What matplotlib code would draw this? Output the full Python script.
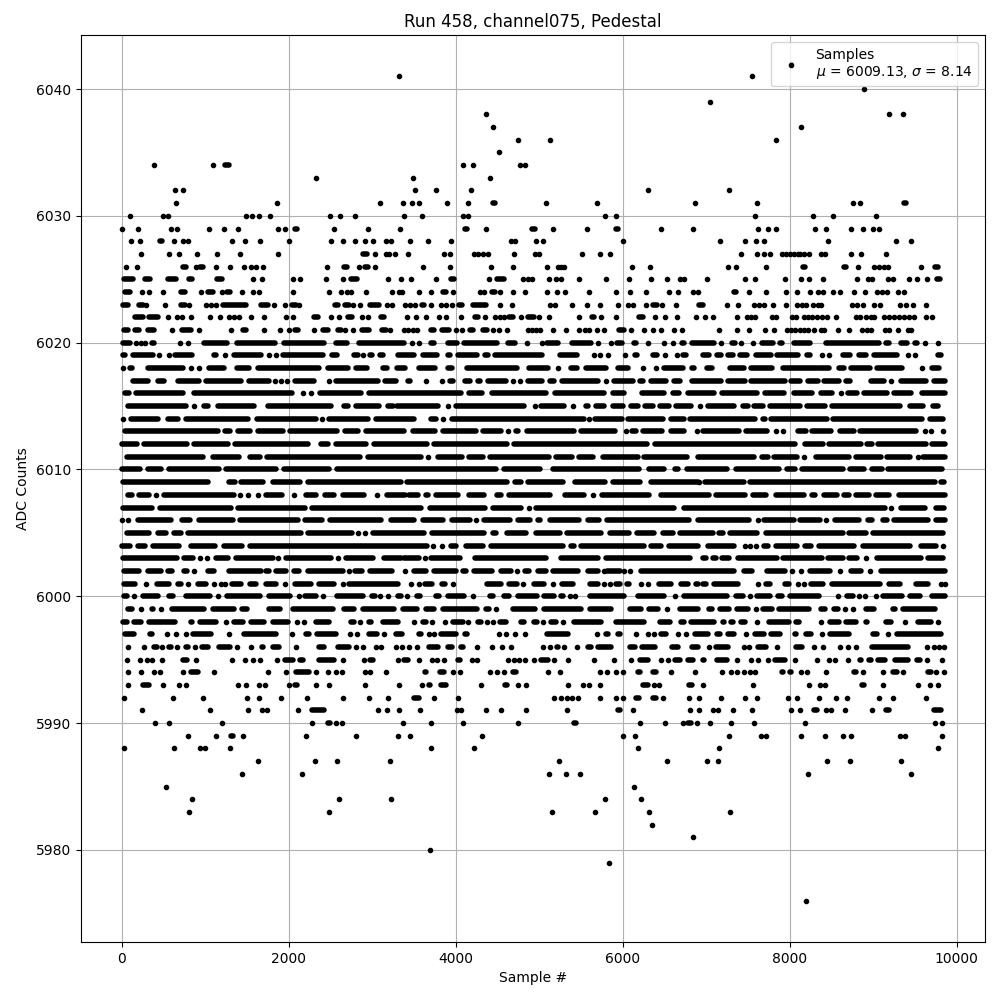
import matplotlib
matplotlib.use("Agg")
import matplotlib.pyplot as plt

# Each row is one ADC level. An int is a single sample index;
# a tuple (start, end) is a stretch of merged dots.
row_6042 = [8012]
row_6041 = [3325, 7544]
row_6040 = [8888]
row_6039 = [7040]
row_6038 = [4368, 9188, 9356]
row_6037 = [4452, 8132]
row_6036 = [4752, 5124, 7832]
row_6035 = [4524]
row_6034 = [392, 1088, (1240, 1280), 4092, 4212, 4776, 4836]
row_6033 = [2324, 3492, 4416]
row_6032 = [644, 740, 3516, 3768, 4188, 6300, 7268]
row_6031 = [656, 1856, 3092, 3372, 3480, 3564, 3900, 4152, (4452, 4476), 5076, 5688, 6864, 7604, 8756, 8840, (9368, 9392)]
row_6030 = [104, 500, 552, 1492, 1560, 1640, 1772, 2492, 2612, 2792, 3384, 3600, 4092, 4152, 5784, 5916, 7580, 8276, 8516, 9032]
row_6029 = [0, 200, 596, 668, 1040, 1220, 1388, 1868, 1960, (2072, 2100), 2540, 2948, 3330, (4112, 4140), 4368, (4920, 4952), 5160, 5568, (5924, 5944), 6456, 6840, 7616, 7736, 7832, 8300, 8432, 8732, 8876, 8996, 9068]
row_6028 = [116, 224, (460, 480), 632, 740, 800, 1316, 1472, 1652, 2000, 2504, 2648, 2792, 2912, 3008, 3160, 3224, 3456, 3672, 3948, 4668, 4716, 4956, 5040, 6000, 7160, 7460, 7592, 7688, 8456, 9272, 9452]
row_6027 = [236, 572, 692, 908, 1136, 1412, 1868, (2888, 2936), 3032, 3160, 3200, 3268, 3432, 3864, 3936, 4224, 4272, 4332, 4392, 4704, 4944, 4992, 5512, 5724, 5844, 7412, 7604, 7688, 7760, 7904, 7952, 8000, 8048, 8096, 8128, 8176, 8228, 8372, 8420, 8732, 8852, 9152]
row_6026 = [56, 188, (740, 772), 896, (940, 972), 1128, 1292, 1460, 1544, 1604, 1688, 2456, (2660, 2704), 2840, (2912, 2952), 3032, 3612, 3936, 4428, 4692, 5088, 5220, 5256, 5292, 6108, 6324, 7256, 7352, 7712, (8156, 8180), (8648, 8676), 8816, 9008, 9068, 9128, 9176, 9572, (9740, 9776)]
row_6025 = [(28, 140), (284, 344), (560, 648), (812, 848), (1136, 1196), 1568, 1676, 2048, 2132, 2444, 2648, (2744, 2820), 3192, 3344, 3468, 3768, (3948, 3984), 4404, (4500, 4580), 4812, 4872, 4920, 5112, 5196, 5256, 5472, 5796, 6072, 6336, 6532, 6684, 6732, 7004, 7460, 7580, 7940, 8132, 8228, 8396, 8804, 8936, 8984, 9176, 9236, 9428, 9524, 9644, (9760, 9800)]
row_6024 = [(44, 100), 248, 332, 500, (716, 764), 956, (1028, 1088), 1196, (1256, 1300), 1436, 1568, 1640, 2048, 2480, 2624, 2696, 2744, 2924, 3240, 3320, 3352, 3564, 3708, (3852, 3880), 3972, 4296, 4344, (4440, 4476), 4536, 4692, 4836, 5096, 5208, 5304, 5592, 5916, 6084, 6276, 6552, 6660, 6840, 6900, (7328, 7352), 7508, 7712, 7952, 8084, 8240, 8336, 8396, 8516, 8600, 8768, 8900, 9048, 9100, 9160, 9296, 9368]
row_6023 = [(12, 80), (212, 260), 296, 524, (716, 764), 812, 1004, 1064, 1124, (1208, 1484), (1664, 1748), 1820, 1952, (2036, 2084), 2120, (2552, 2588), (2672, 2720), 2768, 2852, (2972, 3080), 3176, 3240, 3392, 3452, 3508, (3592, 3620), 3708, 3828, 3888, 3960, (4044, 4080), (4212, 4364), 4536, 4680, 5124, 5184, 5388, 5572, 5724, 5940, 6060, 6120, 6276, (6360, 6412), 6468, 6636, (6908, 6956), 7244, 7376, 7568, 7628, 7688, 7796, 7952, 8084, 8148, 8196, 8276, 8336, 8372, 8744, 8808, 8876, 9008, 9080, 9320, 9388, 9476, 9632]
row_6022 = [(164, 260), (332, 440), 560, 668, 728, 836, 1052, 1172, 1280, 1340, 1400, 1544, 1700, 1964, 2048, (2300, 2348), 2504, 2600, (2708, 2756), 2876, 2948, (3104, 3140), 3412, 3528, 3648, 3800, 3888, 4060, (4236, 4272), 4356, 4476, 4536, 4584, (4644, 4692), 4788, (4868, 4932), 4992, 5112, 5472, (5628, 5652), 5736, 5916, (6192, 6240), 6384, 6504, 6648, 6884, 6980, 7076, 7364, 7488, 7536, 7588, 7784, 7832, 8024, 8072, 8168, 8216, 8268, 8328, 8388, 8448, 8552, 8792, 8848, 8908, 8968, 9008, 9128, 9188, 9248, 9308, 9368, 9428, 9488, 9632, 9704]
row_6021 = [(28, 80), (164, 212), (320, 392), 608, (728, 836), 932, 1304, (1448, 1484), 1700, 1892, 2000, (2072, 2108), 2300, (2408, 2468), (2588, 2624), 2672, 2776, (2876, 2960), (3116, 3164), 3212, 3380, 3432, 3484, 3540, (3700, 3744), (3840, 3920), 4008, 4080, (4172, 4212), (4332, 4380), 4452, 4524, 4620, 4868, 4920, 4960, 5012, 5160, 5316, 5472, 5544, 5592, 5688, 5772, (5952, 6012), 6096, 6252, 6364, 6456, 6612, 6708, 7148, 7364, 7508, 7708, 7808, 7964, 8016, 8068, 8120, 8168, 8216, 8288, 8372, 8408, 8576, 8708, 8868, 8920, 8976, 9140, 9188, 9296, 9416, 9452]
row_6020 = [(20, 96), 168, 228, 280, (368, 388), 696, 800, (984, 1260), (1384, 1836), (1944, 2428), (2564, 2700), (2840, 3380), 3472, 3560, (3704, 3740), (3904, 4012), (4096, 4500), (4628, 4708), 4860, 5028, (5096, 5228), (5392, 5620), 5700, 5856, (5928, 5992), (6136, 6160), 6308, 6496, 6600, (6716, 6740), (6836, 7088), 7172, (7312, 7344), 7412, 7556, (7668, 7796), (7880, 7908), (8052, 8248), (8440, 9068), (9148, 9188), (9328, 9408), (9500, 9528), 9620, 9776]
row_6019 = [(12, 44), (132, 380), 444, 564, (644, 848), (1104, 1128), 1232, (1344, 1668), 1768, 1852, (1932, 2408), (2524, 2580), (2784, 2828), 2892, (2972, 2996), (3092, 3128), (3308, 3500), (3604, 3772), (3904, 3932), (4024, 4260), (4352, 4388), (4468, 5028), (5248, 5448), 5656, 5732, 5824, 6024, (6144, 6172), (6364, 6412), 6504, 6648, (6724, 6756), (6960, 7036), (7132, 7176), (7260, 7316), (7400, 7484), (7592, 7776), (7852, 8096), (8208, 8248), 8384, 8468, (8640, 8728), (8828, 8916), (9012, 9284), 9420, 9504, (9780, 9816)]
row_6018 = [12, (100, 124), (312, 740), 836, 928, (1044, 1220), (1384, 1528), (1632, 2368), (2472, 2708), (2812, 2940), (3124, 3172), (3300, 3396), (3564, 3748), (3904, 3960), (4136, 4740), (4876, 5100), 5224, (5376, 5448), (5556, 5800), (5944, 6060), 6240, 6400, (6496, 6720), (6836, 6852), (7008, 7064), (7280, 7456), (7540, 7784), (7920, 8316), (8336, 8476), (8592, 8656), (8740, 8956), (9048, 9344), 9588, (9700, 9788)]
row_6017 = [(140, 320), (432, 508), (672, 928), (1008, 1428), (1520, 1768), 1832, 1904, 1980, (2072, 2308), 2480, (2572, 3068), (3156, 3280), (3424, 3452), 3644, 3840, (3932, 3972), (4108, 4172), (4264, 4292), (4384, 4600), 4692, 4772, (4864, 5028), (5124, 5172), (5276, 5700), 5800, (5896, 6120), (6204, 6240), (6344, 6524), (6612, 6692), (6832, 7176), (7260, 7464), (7540, 7944), (8020, 8120), (8224, 8336), (8416, 8592), (8680, 8720), (8968, 9124), 9212, (9328, 9636), (9732, 9864)]
row_6016 = [(40, 88), (172, 740), (864, 2040), 2168, 2272, (2372, 2868), (2964, 4068), (4156, 4320), (4436, 5080), (5184, 5772), (5884, 6020), (6236, 6492), (6604, 6672), (6784, 7096), (7188, 7608), (7700, 7936), (8052, 8264), (8376, 8504), 8620, (8696, 8804), (8892, 9168), (9252, 9456), (9588, 9864)]
row_6015 = [(72, 768), 872, (984, 1036), (1152, 1588), (1752, 2508), (2664, 2708), (2804, 3080), (3192, 3248), (3300, 3788), 3912, (4004, 4820), 4944, (5024, 5300), 5404, (5556, 5580), (5676, 5780), (5884, 6000), (6096, 6180), (6264, 6360), (6452, 6560), (6644, 6820), 6920, (7020, 7328), (7440, 7496), (7572, 7676), (7768, 8124), (8208, 8424), (8508, 9316), (9440, 9596), (9720, 9776)]
row_6014 = [20, (112, 440), (552, 680), (772, 1508), (1624, 2328), 2396, (2484, 2956), (3044, 3500), (3704, 3760), 3852, (3956, 5540), 5596, (5664, 5988), (6064, 6480), (6576, 6740), (6812, 7584), (7680, 7704), (7780, 8448), (8520, 9588), (9680, 9836)]
row_6013 = [(36, 1156), (1232, 1300), (1392, 1532), (1632, 1928), (2012, 2580), (2676, 2828), (2924, 3380), (3484, 3748), (3844, 4240), (4324, 4548), 4632, (4724, 4748), (4852, 5420), (5504, 5908), 6040, (6116, 6160), (6244, 6468), (6576, 6740), 6892, (6960, 7396), (7472, 7728), 7840, 7920, (8100, 8196), (8268, 8496), (8600, 8776), (8848, 9516), 9620, 9696, 9840]
row_6012 = [(0, 180), (264, 780), (864, 1268), (1356, 2228), (2384, 2468), (2572, 2928), (3024, 3660), (3736, 4620), (4704, 6292), (6384, 8064), (8188, 8396), (8472, 8856), (8928, 8984), (9060, 9628), (9700, 9864)]
row_6011 = [(60, 972), (1092, 1408), (1532, 1656), (1740, 2856), (2952, 3588), 3668, (3792, 4080), (4164, 4332), (4412, 5120), (5204, 5388), (5476, 5640), (5764, 6180), (6256, 6772), (6904, 7576), (7668, 7736), (7812, 8088), 8176, (8312, 8708), (8796, 9088), (9168, 9436), 9536, (9600, 9856)]
row_6010 = [(0, 220), (312, 476), (564, 1168), (1244, 1848), (1944, 2488), (2584, 4488), (4576, 5012), (5164, 6200), (6316, 6500), (6624, 6660), (6772, 7248), (7360, 7872), (7968, 8064), (8152, 8636), (8720, 8888), (8980, 9104), (9180, 9828)]
row_6009 = [(12, 1028), (1284, 1356), (1432, 1688), (1812, 2140), (2232, 3340), (3412, 4620), (4716, 4788), (4864, 5280), (5424, 5788), (5884, 6208), (6336, 6900), 6908, (6980, 7448), (7520, 9744), (9808, 9848)]
row_6008 = [(72, 120), (212, 328), 412, (504, 1348), 1412, 1508, 1628, (1724, 1920), 2060, (2204, 2328), (2432, 2540), (2652, 2908), 3060, (3172, 3390), (3444, 3548), (3644, 3668), (3764, 4032), (4164, 4340), (4492, 4540), (4636, 5132), (5308, 5540), 5644, (5752, 6320), (6464, 7036), (7120, 7468), (7560, 7716), (7832, 8168), (8272, 8308), (8412, 8564), (8652, 8708), (8800, 8944), (9032, 9188), (9312, 9856)]
row_6007 = [(12, 368), (460, 1308), (1396, 2196), (2284, 3588), (3692, 4348), (4452, 4788), 4876, (4964, 6620), (6732, 9136), 9208, (9328, 9616), (9748, 9844)]
row_6006 = [0, 80, (192, 588), (724, 816), (924, 1328), (1412, 2108), (2200, 2400), (2492, 3100), (3220, 3500), (3604, 3852), (3952, 4172), 4244, (4336, 4652), (4744, 4892), (4984, 5012), (5124, 5480), (5584, 5720), (5812, 6800), (6904, 7516), 7616, (7692, 8048), (8120, 8368), 8440, (8540, 8828), (8940, 8984), (9112, 9164), (9252, 9656), (9748, 9856)]
row_6005 = [(60, 328), (432, 536), (624, 716), (792, 2148), (2232, 2760), 2828, 2920, (3012, 3620), (3712, 4340), (4444, 4480), (4612, 4844), (4956, 5252), (5336, 5740), (5852, 6080), (6172, 6372), (6484, 6600), (6684, 7076), (7152, 7196), (7288, 7608), (7720, 8636), (8712, 8916), (9000, 9836)]
row_6004 = [(0, 100), (192, 276), (372, 688), (832, 1120), (1220, 1436), (1536, 3652), 3724, 3840, (3948, 4000), (4124, 4332), (4424, 5280), (5384, 5412), (5504, 6260), (6344, 6460), (6552, 6900), (7020, 7336), 7468, 7520, 7592, (7692, 7744), (7832, 8088), (8184, 8256), (8352, 8768), (8880, 9436), (9576, 9756), 9836]
row_6003 = [(12, 668), (744, 856), 940, 1020, (1124, 1276), (1364, 1808), 1868, (1964, 2508), 2588, (2692, 3008), (3144, 3340), (3384, 3560), 3628, (3708, 4052), (4228, 5080), (5256, 5700), (5796, 6812), (6960, 6996), (7080, 7116), (7192, 7276), (7380, 7848), (7920, 8384), (8464, 8636), (8708, 8804), 8912, (9048, 9576), (9660, 9836)]
row_6002 = [(24, 204), (320, 468), (560, 608), (744, 788), 868, (1032, 1108), (1284, 1668), (1732, 1768), (1844, 1968), (2064, 2128), (2232, 2656), 2720, (2800, 2876), (2972, 3236), 3392, (3496, 3648), (3744, 4000), (4084, 4128), (4216, 4440), (4548, 4660), 4740, (4828, 4880), (4984, 5080), (5164, 5460), (5584, 5700), 5780, (5812, 5972), 6020, 6092, (6224, 7328), (7452, 7544), (7728, 7944), 8028, 8136, (8240, 8488), 8600, (8732, 8856), 8960, (9092, 9856)]
row_6001 = [(24, 156), 296, (424, 568), (672, 708), 792, (912, 1008), 1104, 1188, 1240, (1320, 1428), (1540, 1608), (1732, 1848), 1952, (2072, 2268), (2364, 2540), 2648, (2724, 3308), 3460, 3560, (3636, 3720), (3836, 3868), 3964, (4372, 4540), (4636, 4740), 4812, (4936, 5060), 5164, (5276, 5400), (5604, 5700), 5780, 5852, (5924, 5972), (6052, 6080), 6224, 6304, (6436, 6580), (6696, 6780), (6876, 6900), (6960, 6996), (7092, 7376), 7616, (7720, 7768), (7940, 7988), 8096, 8168, (8260, 8396), (8508, 9076), (9192, 9316), (9508, 9656), 9808, 9860]
row_6000 = [(24, 60), 152, (252, 440), (564, 620), (772, 1060), 1148, (1260, 1656), (1760, 2016), 2120, (2196, 2328), 2412, (2580, 2888), (2996, 3028), 3092, 3188, (3304, 3340), 3420, (3532, 3572), (3764, 3800), (3904, 4100), 4208, (4412, 4452), (4576, 4640), (4744, 4972), (5056, 5180), (5264, 5284), 5364, 5432, (5604, 6020), (6184, 6500), 6632, (6736, 7248), (7352, 7436), 7520, (7608, 7760), (7860, 7908), (8000, 8348), 8576, (8688, 8756), 8828, 8900, 9032, (9112, 9344), (9440, 9560), (9700, 9856)]
row_5999 = [(72, 120), 228, (360, 380), 476, (604, 988), (1092, 1348), (1444, 1496), (1760, 1900), (2052, 2528), (2660, 2788), (2892, 3260), (3364, 3540), (3644, 3740), (3844, 4260), (4364, 4400), 4484, (4692, 4948), (5052, 5500), (5604, 5860), (6084, 6220), (6312, 6428), 6532, (6692, 6900), (7032, 7064), (7160, 7276), (7372, 7496), 7592, (7680, 7784), (7872, 8236), (8380, 8428), (8528, 8576), 8660, 8760, (8912, 9008), (9232, 9256), (9352, 9736)]
row_5998 = [(20, 68), (152, 228), (324, 636), (832, 848), (940, 1128), 1244, (1344, 1448), (1552, 1700), (1812, 1988), 2096, 2180, (2332, 2488), (2752, 2788), 2852, (2960, 2980), (3124, 3308), 3504, (3604, 3640), 3720, 3876, (3972, 4088), 4152, (4264, 4300), 4372, 4452, (4532, 4600), (4784, 4820), (4932, 4972), 5044, (5144, 5200), 5280, (5412, 5740), (5924, 6252), (6452, 6572), (6704, 6732), (6824, 7096), (7200, 7216), (7300, 7316), (7420, 7468), 7608, (7752, 7988), (8080, 8116), 8380, (8480, 8588), (8680, 8796), (8912, 8928), (9148, 9216), 9380, (9532, 9696), 9780]
row_5997 = [(40, 148), (340, 368), 548, 652, 776, (852, 1068), 1288, (1464, 1848), 2036, (2204, 2240), (2340, 2568), 2740, 2816, (2964, 3060), 3140, (3284, 3352), (3556, 3588), 3680, 3744, (3824, 4000), (4108, 4140), 4524, 4608, 4716, 4836, (5092, 5348), 5692, (5804, 5820), (5944, 5968), 6164, 6300, 6372, (6464, 6520), 6660, 6760, (6864, 7016), (7132, 7168), (7260, 7336), 7472, (7580, 7688), (7772, 7888), (8064, 8080), (8200, 8256), 8384, (8488, 8716), (9000, 9048), 9176, (9280, 9816)]
row_5996 = [80, 272, (392, 420), 488, (572, 588), 668, (772, 800), 884, (964, 1028), (1164, 1300), 1376, 1544, (1684, 1696), (1812, 1880), 2084, (2364, 2420), (2592, 2728), 2804, 2888, 3040, 3100, 3284, 3360, 3444, 3540, (3676, 3788), (3904, 3960), (4064, 4092), 4260, 4432, 4552, 4668, 5040, 5132, (5216, 5224), 5292, 5452, (5584, 5620), (5704, 5860), (6084, 6148), (6236, 6388), (6596, 6668), (6836, 6900), 7028, (7120, 7264), 7448, 7508, (7620, 7716), 7848, (8072, 8148), 8296, 8396, 8600, 8696, 8792, (8980, 9416), 9648, 9728, 9788, 9848]
row_5995 = [68, 224, 308, 368, 488, (732, 780), 896, 1316, 1472, 1568, 1652, 1856, (1952, 2048), (2132, 2168), (2364, 2548), 2648, 2900, (2972, 3008), 3308, (3384, 3428), 3564, 3712, 3780, 3864, (4024, 4052), 4200, 4260, 4632, 4704, 4764, 4836, 4932, (5024, 5100), 5172, 5344, 5652, 5892, 6096, (6212, 6300), 6460, 6540, (6624, 6692), (6784, 6840), (6960, 6968), (7128, 7244), 7364, 7532, 7616, 7736, (7828, 7948), 8060, 8324, 8476, 8540, 8696, (8840, 8856), (8948, 8968), (9060, 9144), (9260, 9416), (9520, 9556), 9644, 9824]
row_5994 = [80, 236, 392, 464, 740, (832, 916), 1100, 1752, 1964, (2092, 2240), 2324, 2468, 2564, 2636, 2912, 2972, 3164, (3628, 3648), (3812, 3860), 3972, 4056, 4416, 4500, 4576, (4692, 4728), 5100, 5244, 5724, 5808, 5916, 6004, (6184, 6212), (6364, 6400), 6576, 6864, 7184, 7292, 7364, 7448, 7520, 7580, (7908, 7916), (8008, 8016), 8132, 8204, 8432, (8772, 8796), 8876, 9116, (9240, 9284), 9356, (9660, 9696), 9756, 9848]
row_5993 = [80, (252, 328), 500, 692, 776, 1388, 1484, 1640, 1712, 2000, (2080, 2100), 2324, 2480, 2912, 3320, 3600, (3684, 3692), (3824, 3888), 4308, (4596, 4620), 4752, 4848, 5340, 5528, 5596, 5724, (6248, 6300), 6380, 6432, (6796, 6828), 6956, 7556, 8228, 8360, 8420, (8868, 8884), 9116, 9536, 9680, 9780]
row_5992 = [32, 620, 980, 1496, 1640, 1904, 2216, 2648, 2960, 3188, (3496, 3560), 3744, 4032, 5172, 5256, 5332, 5392, 5460, 5724, 5916, 6000, (6164, 6200), (6364, 6396), 6480, 6792, 6912, 7172, 7460, 7604, 7976, 8084, 8348, 8552, 8684, 9068, 9236, 9632]
row_5991 = [248, 1052, 1508, 1676, 1736, 2108, (2284, 2420), 3068, 3176, 3320, 3576, 4020, 4068, 4368, 4548, 4848, 5328, (5940, 5964), 6124, 6804, 6908, 7076, 7136, 7316, 7544, 8012, 8120, (8288, 8328), 8432, 8492, 8660, 8984, (9148, 9188), (9728, 9808)]
row_5990 = [404, 572, 1196, 2276, (2476, 2500), 2568, 2636, 3372, 3708, 4092, 4752, (5420, 5444), 6204, 6504, 6720, (6780, 6820), 6892, 7040, 7292, 7568, 8180, 9740, 9824]
row_5989 = [800, 1124, (1308, 1332), 1448, 2204, 2804, 3308, 3456, 4320, 6000, 6144, 7268, 7652, 7712, 8132, 8420, 8636, 8732, 9320, 9380, 9824]
row_5988 = [32, 632, 940, 992, 1292, 3708, 4224, 6180, 7148, 9776]
row_5987 = [1628, 2312, 2576, 3212, 5232, 6528, 7004, 7136, 8444, 8720, 9332]
row_5986 = [1436, 2156, 5112, 5316, 5484, 8216, 9452]
row_5985 = [536, 6132]
row_5984 = [848, 2600, 3224, 5784, 6216]
row_5983 = [812, 2480, 5148, 5664, 6312, 7280]
row_5982 = [6348]
row_5981 = [6840]
row_5980 = [3696]
row_5979 = [5832]
row_5976 = [8192]

levels = [6042, 6041, 6040, 6039, 6038, 6037, 6036, 6035, 6034, 6033, 6032, 6031, 6030, 6029, 6028, 6027, 6026, 6025, 6024, 6023, 6022, 6021, 6020, 6019, 6018, 6017, 6016, 6015, 6014, 6013, 6012, 6011, 6010, 6009, 6008, 6007, 6006, 6005, 6004, 6003, 6002, 6001, 6000, 5999, 5998, 5997, 5996, 5995, 5994, 5993, 5992, 5991, 5990, 5989, 5988, 5987, 5986, 5985, 5984, 5983, 5982, 5981, 5980, 5979, 5976]
rows = [row_6042, row_6041, row_6040, row_6039, row_6038, row_6037, row_6036, row_6035, row_6034, row_6033, row_6032, row_6031, row_6030, row_6029, row_6028, row_6027, row_6026, row_6025, row_6024, row_6023, row_6022, row_6021, row_6020, row_6019, row_6018, row_6017, row_6016, row_6015, row_6014, row_6013, row_6012, row_6011, row_6010, row_6009, row_6008, row_6007, row_6006, row_6005, row_6004, row_6003, row_6002, row_6001, row_6000, row_5999, row_5998, row_5997, row_5996, row_5995, row_5994, row_5993, row_5992, row_5991, row_5990, row_5989, row_5988, row_5987, row_5986, row_5985, row_5984, row_5983, row_5982, row_5981, row_5980, row_5979, row_5976]

mean_value = 6009.13
sigma_value = 8.14

dot_x, dot_y = [], []
run_y, run_start, run_end = [], [], []
for level, row in zip(levels, rows):
    for item in row:
        if isinstance(item, tuple):
            run_y.append(level)
            run_start.append(item[0])
            run_end.append(item[1])
        else:
            dot_x.append(item)
            dot_y.append(level)

fig, ax = plt.subplots(figsize=(10, 10), dpi=100)
ax.hlines(run_y, run_start, run_end, colors="black", linewidth=4, capstyle="round", zorder=2)
ax.plot(dot_x, dot_y, "k.", zorder=2,
        label=f"Samples\n$\\mu$ = {mean_value:.2f}, $\\sigma$ = {sigma_value:.2f}")
ax.set_xlim(-487, 10339)
ax.set_ylim(5972.74, 6044.26)
ax.set_title("Run 458, channel075, Pedestal")
ax.set_xlabel("Sample #")
ax.set_ylabel("ADC Counts")
ax.grid(True)
ax.legend(loc="upper right")
fig.subplots_adjust(left=0.081, right=0.985, top=0.965, bottom=0.058)
fig.savefig("out.png", dpi=100)
